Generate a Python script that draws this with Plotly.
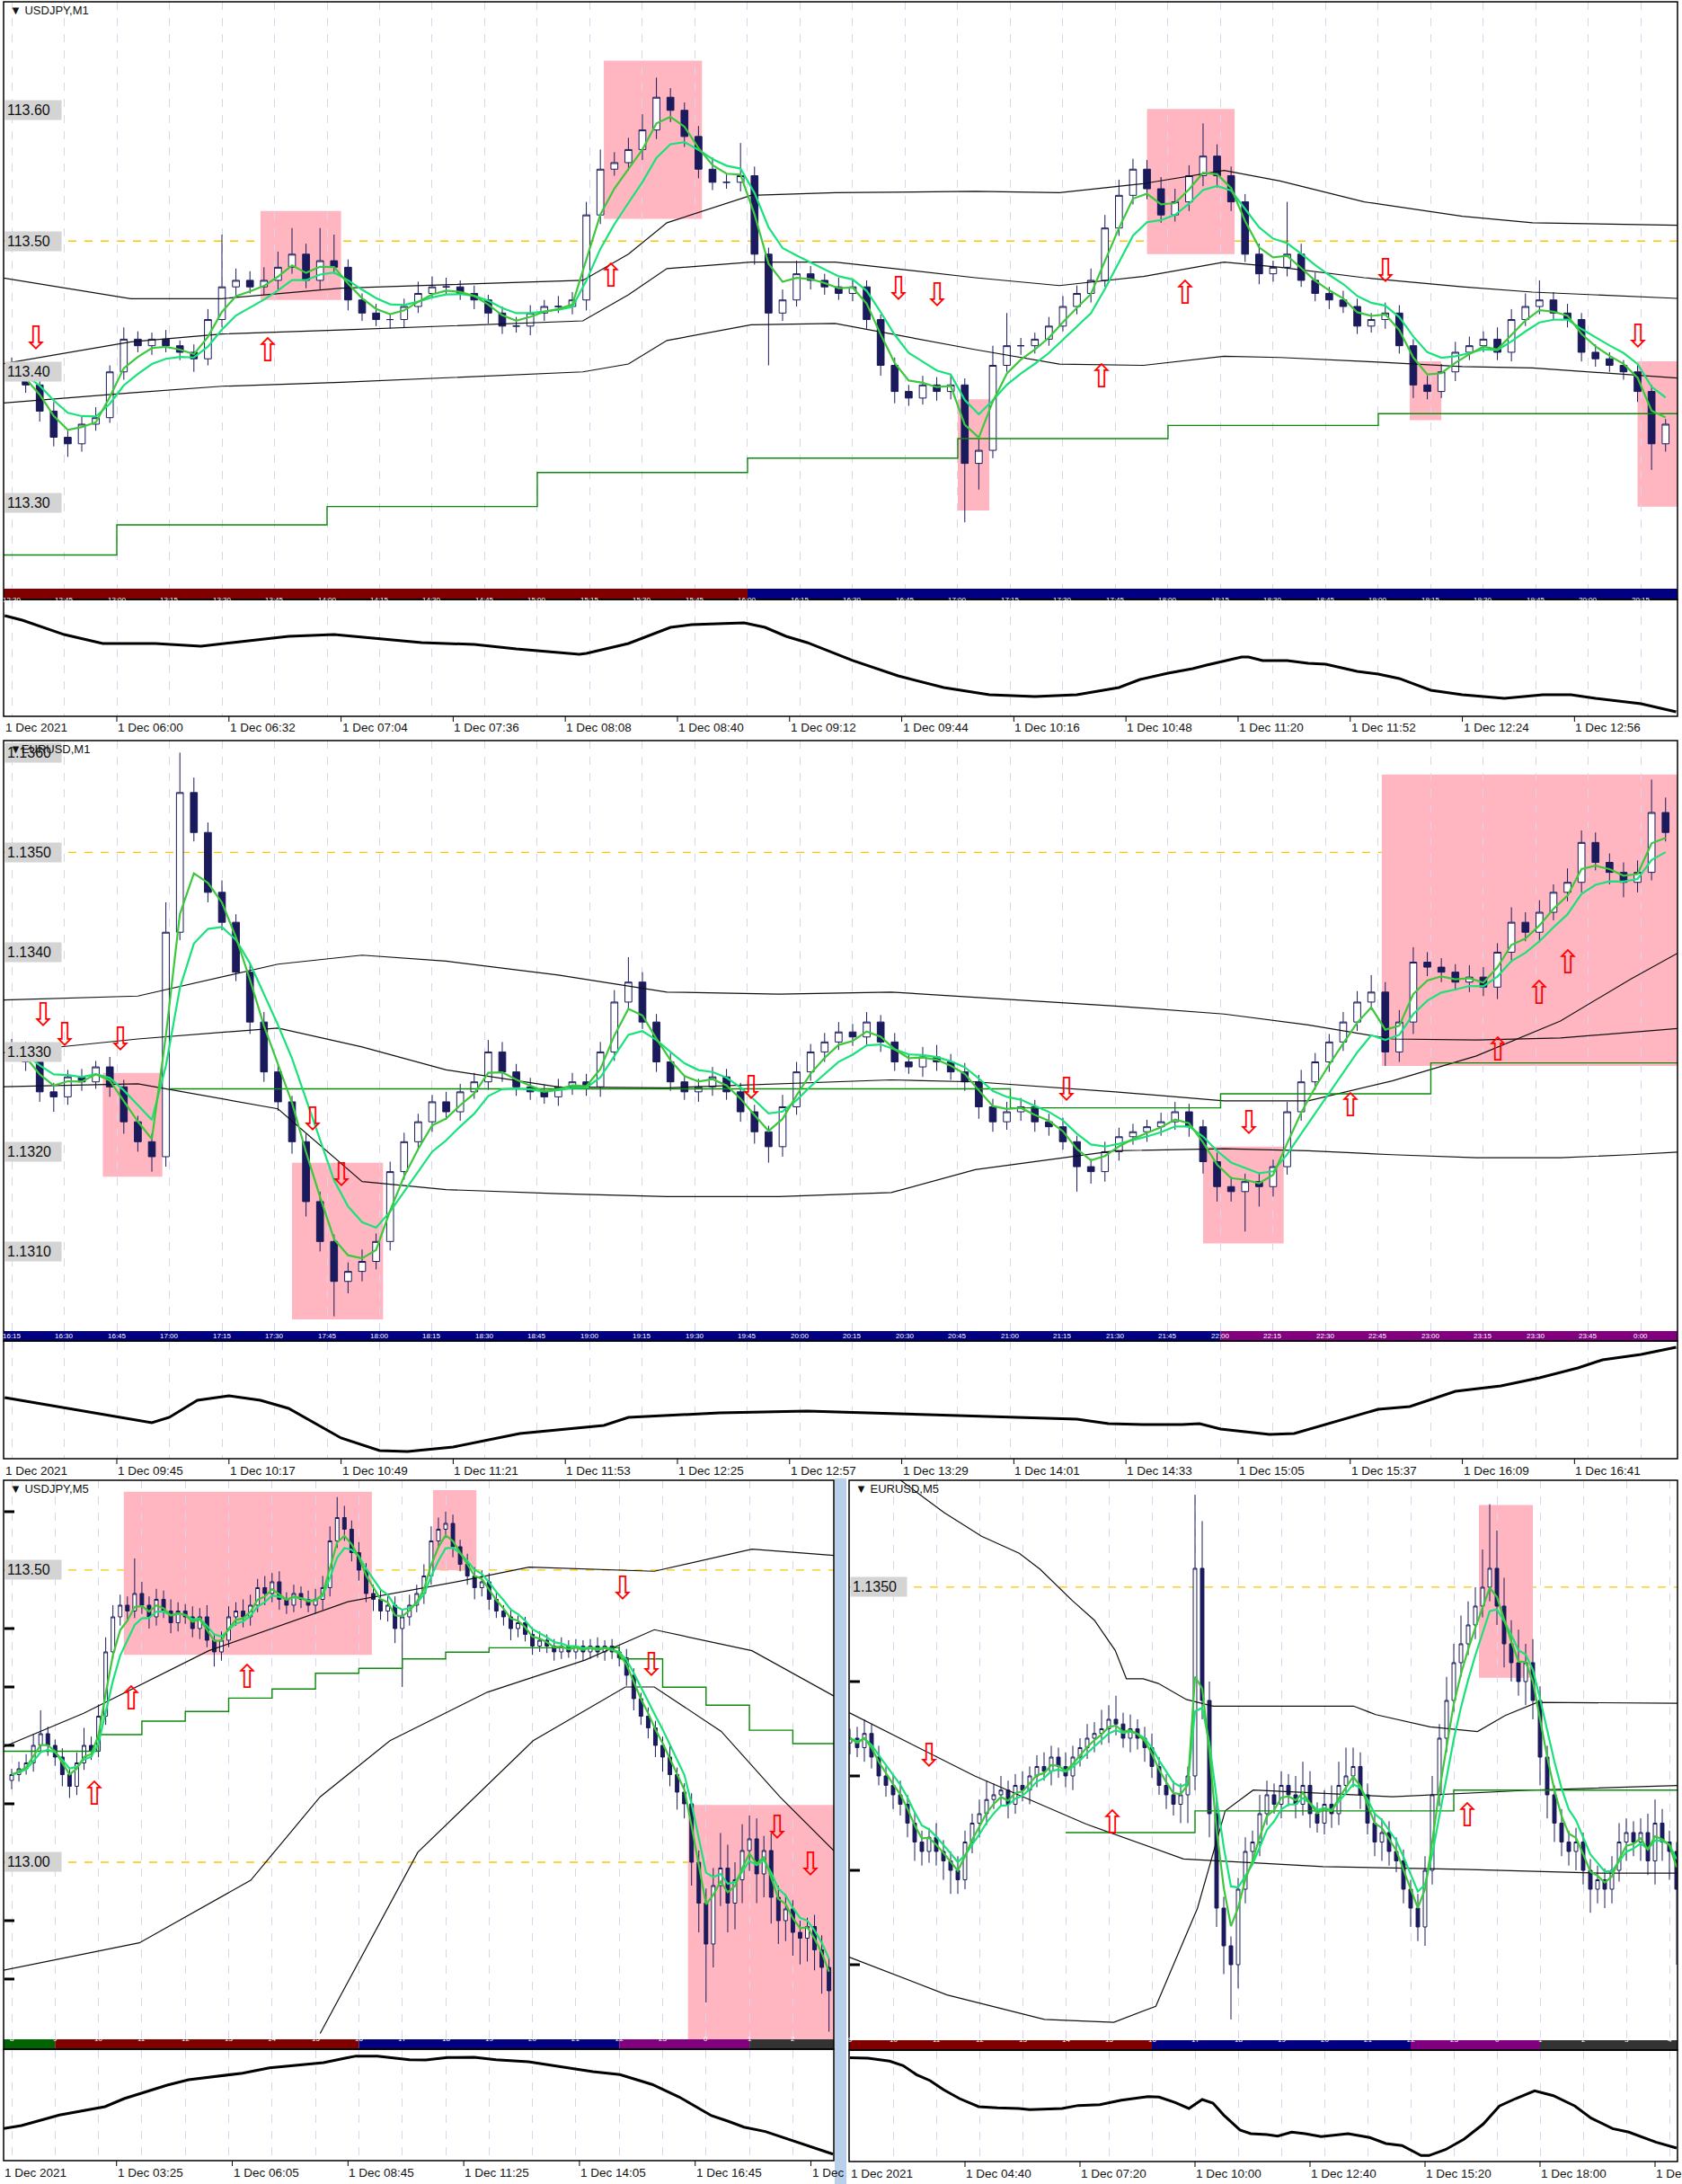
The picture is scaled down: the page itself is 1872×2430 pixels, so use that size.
import pandas as pd
import plotly.graph_objects as go

W, H = 1872, 2430

# ======================= DATA =======================
# ---- Panel 1 : USDJPY,M1  (x = minutes after 12:30 on the time bar, one candle per 4 minutes)
p1_time = list(range(0, 476, 4))
p1_open0 = 113.405
p1_close = [113.400,113.390,113.370,113.350,113.345,113.360,113.365,113.400,113.425,113.420,
            113.425,113.420,113.415,113.410,113.440,113.465,113.470,113.465,113.470,113.480,
            113.490,113.470,113.485,113.480,113.455,113.445,113.440,113.440,113.450,113.460,
            113.465,113.465,113.460,113.455,113.445,113.435,113.435,113.445,113.450,113.450,
            113.455,113.520,113.555,113.560,113.570,113.585,113.610,113.600,113.580,113.555,
            113.545,113.545,113.550,113.490,113.445,113.455,113.475,113.470,113.465,113.460,
            113.465,113.440,113.405,113.385,113.380,113.390,113.385,113.390,113.330,113.340,
            113.405,113.420,113.420,113.425,113.435,113.450,113.460,113.470,113.510,113.535,
            113.555,113.540,113.520,113.530,113.550,113.565,113.550,113.530,113.490,113.475,
            113.480,113.490,113.470,113.460,113.455,113.450,113.435,113.440,113.445,113.420,
            113.390,113.385,113.400,113.415,113.420,113.425,113.415,113.440,113.450,113.455,
            113.445,113.440,113.415,113.410,113.405,113.400,113.385,113.345,113.360]
p1_wick_up = [6,5,4,7,5,6,8,5,9,6, 5,7,4,6,8,40,9,7,10,12, 20,8,25,20,6,5,7,4,6,9,
              8,7,5,6,4,5,7,6,5,8, 6,10,15,8,9,12,15,7,6,8, 9,6,25,7,5,8,10,6,5,7,
              6,5,4,6,5,7,6,8,5,9, 15,25,6,5,7,8,6,9,10,12, 8,7,9,10,8,25,9,7,6,8,
              5,40,8,6,5,7,6,5,8,6, 5,7,6,8,7,6,9,8,10,15, 6,7,5,6,5,4,6,5,4]
p1_wick_dn = [5,6,8,7,10,6,5,4,6,5, 7,5,6,10,5,6,7,5,6,7, 5,6,7,5,8,6,5,7,6,5,
              4,6,5,7,8,6,5,7,6,5, 6,8,7,5,6,8,7,9,8,7, 6,5,7,8,40,6,5,7,6,5,
              6,7,8,9,6,5,7,6,45,20, 6,5,7,6,5,4,6,7,5,6, 7,8,6,5,7,8,9,7,6,8,
              6,7,5,6,7,5,6,5,7,6, 10,6,5,7,6,5,6,7,5,6, 5,6,7,6,5,6,8,20,6]
p1_band_t = [-3, 34, 60, 94, 163, 176, 187, 211, 235, 275, 299, 323, 346, 362, 386, 414, 434, 477]
p1_band_hi = [113.472,113.456,113.456,113.464,113.470,113.490,113.514,113.535,113.537,113.538,
              113.537,113.544,113.554,113.546,113.530,113.519,113.514,113.512]
p1_band_mid = [113.406,113.423,113.429,113.432,113.439,113.459,113.479,113.484,113.484,113.472,
               113.466,113.473,113.484,113.480,113.472,113.465,113.461,113.456]
p1_band_lo = [113.376,113.384,113.389,113.392,113.400,113.406,113.424,113.436,113.437,113.417,
              113.406,113.405,113.412,113.411,113.408,113.404,113.403,113.395]
p1_step_t = [-3, 30, 90, 150, 210, 270, 330, 390, 477]
p1_step_v = [113.260, 113.283, 113.297, 113.323, 113.334, 113.349, 113.359, 113.368, 113.368]
p1_osc_t = [-2,3,15,26,41,54,63,79,92,106,117,132,144,162,164,176,188,194,209,215,
            221,227,240,253,266,279,292,304,316,322,330,337,341,351,353,357,364,370,375,384,
            390,396,405,414,426,437,445,452,465,475]
p1_osc_v = [86.8,82.9,70.5,62.8,62.8,60.5,63.6,69.0,70.5,66.7,63.6,62.0,58.1,53.5,54.3,62.8,76.7,79.1,80.6,76.7,
            69.0,63.6,48.1,34.9,24.8,18.6,17.1,18.6,24.8,31.8,37.2,41.1,44.2,51.2,51.2,48.1,48.1,45.7,45.0,38.8,
            36.4,32.6,22.5,18.6,15.5,18.6,18.6,15.5,10.9,3.9]
p1_zone_t0 = [71, 169, 270, 324, 399, 464]
p1_zone_t1 = [94, 197, 279, 349, 408, 476]
p1_zone_lo = [113.455, 113.517, 113.294, 113.490, 113.363, 113.297]
p1_zone_hi = [113.523, 113.638, 113.379, 113.601, 113.408, 113.408]
p1_arrow_t = [7, 253, 264, 392, 464, 73, 171, 335, 311]
p1_arrow_p = [113.426, 113.464, 113.459, 113.478, 113.428, 113.417, 113.474, 113.461, 113.397]
p1_arrow_dir = ['dn', 'dn', 'dn', 'dn', 'dn', 'up', 'up', 'up', 'up']
p1_levels = [113.60, 113.50, 113.40, 113.30]
p1_level_text = ['113.60', '113.50', '113.40', '113.30']
p1_yellow = [113.50]
p1_session_t = [-3, 210, 480]
p1_session_c = ['#800000', '#000080']
p1_bar_t = list(range(0, 466, 15))
p1_bar_labels = [f'{((750 + 15 * i) // 60) % 24}:{(750 + 15 * i) % 60:02d}' for i in range(32)]
p1_date_t = [-2, 30, 62, 94, 126, 158, 190, 222, 254, 286, 318, 350, 382, 414, 446]
p1_date_labels = ['1 Dec 2021', '1 Dec 06:00', '1 Dec 06:32', '1 Dec 07:04', '1 Dec 07:36', '1 Dec 08:08',
                  '1 Dec 08:40', '1 Dec 09:12', '1 Dec 09:44', '1 Dec 10:16', '1 Dec 10:48', '1 Dec 11:20',
                  '1 Dec 11:52', '1 Dec 12:24', '1 Dec 12:56']

# ---- Panel 2 : EURUSD,M1  (x = minutes after 16:15 on the time bar)
p2_time = list(range(0, 476, 4))
p2_open0 = 1.13305
p2_close = [1.13300,1.13290,1.13260,1.13255,1.13275,1.13270,1.13285,1.13265,1.13230,1.13210,
            1.13195,1.13420,1.13560,1.13520,1.13460,1.13430,1.13380,1.13330,1.13280,1.13250,
            1.13210,1.13150,1.13110,1.13070,1.13080,1.13090,1.13110,1.13180,1.13210,1.13230,
            1.13250,1.13240,1.13260,1.13270,1.13300,1.13280,1.13265,1.13260,1.13255,1.13265,
            1.13270,1.13265,1.13300,1.13350,1.13370,1.13330,1.13290,1.13270,1.13260,1.13265,
            1.13275,1.13260,1.13240,1.13220,1.13205,1.13245,1.13280,1.13300,1.13310,1.13320,
            1.13315,1.13330,1.13310,1.13290,1.13285,1.13295,1.13290,1.13280,1.13270,1.13245,
            1.13230,1.13240,1.13245,1.13230,1.13225,1.13210,1.13185,1.13180,1.13200,1.13215,
            1.13220,1.13225,1.13230,1.13240,1.13225,1.13190,1.13165,1.13160,1.13170,1.13165,
            1.13185,1.13240,1.13270,1.13290,1.13310,1.13330,1.13350,1.13360,1.13300,1.13330,
            1.13390,1.13385,1.13380,1.13370,1.13375,1.13365,1.13400,1.13430,1.13420,1.13440,
            1.13460,1.13470,1.13510,1.13490,1.13480,1.13470,1.13480,1.13540,1.13520]
p2_wick_up = [8,10,6,9,7,8,6,10,7,6, 8,30,40,15,10,12,8,9,10,7, 6,8,10,7,9,12,8,10,9,8,
              7,10,8,9,12,10,8,9,7,8, 9,8,10,12,25,10,8,9,7,8, 10,8,9,7,6,12,10,8,9,10,
              8,10,7,9,8,10,12,8,9,7, 8,10,9,7,8,9,6,8,10,9, 8,7,9,10,8,7,9,10,8,9,
              7,10,12,9,8,10,11,17,10,12, 15,10,9,8,12,10,9,15,10,12, 8,14,12,10,9,10,12,33,15]
p2_wick_dn = [8,9,10,15,8,9,7,10,12,10, 15,10,8,9,10,8,9,12,10,9, 12,15,10,35,12,10,8,9,8,9,
              10,8,9,7,8,10,9,8,7,9, 8,9,10,9,8,7,10,9,8,10, 9,8,10,12,16,10,8,9,10,8,
              9,8,10,9,7,10,9,8,9,12, 10,8,9,10,9,8,25,12,10,9, 8,10,9,8,10,12,15,10,40,20,
              10,8,9,8,10,9,9,8,14,10, 12,9,10,8,10,9,12,10,9,10, 8,9,10,8,12,15,10,8,9]
p2_band_t = [-3, 36, 76, 100, 124, 156, 187, 219, 251, 275, 315, 346, 370, 394, 418, 442, 462, 477]
p2_band_hi = [1.13352,1.13356,1.13388,1.13397,1.13391,1.13377,1.13360,1.13358,1.13360,1.13355,
              1.13346,1.13338,1.13327,1.13313,1.13312,1.13314,1.13320,1.13324]
p2_band_mid = [1.13299,1.13313,1.13324,1.13305,1.13282,1.13265,1.13264,1.13268,1.13272,1.13270,
               1.13260,1.13251,1.13251,1.13271,1.13296,1.13331,1.13373,1.13402]
p2_band_lo = [1.13265,1.13268,1.13243,1.13170,1.13162,1.13158,1.13155,1.13155,1.13159,1.13182,
              1.13201,1.13203,1.13201,1.13197,1.13194,1.13194,1.13197,1.13200]
p2_step_t = [45, 285, 345, 405, 477]
p2_step_v = [1.13263, 1.13244, 1.13258, 1.13289, 1.13289]
p2_osc_t = [-2,40,45,53,62,71,79,94,105,113,126,134,145,169,176,202,227,253,279,304,
            313,324,334,339,345,359,366,381,390,399,412,425,436,447,454,465,475]
p2_osc_v = [52.3,30.8,35.4,50.0,53.8,50.0,43.1,17.7,6.9,6.2,10.0,14.6,21.5,28.5,35.4,39.2,40.8,38.5,36.2,33.8,
            30.0,29.2,29.2,30.0,25.4,20.8,21.5,34.6,42.3,44.6,57.7,62.3,69.2,77.7,84.6,89.2,95.4]
p2_zone_t0 = [26, 80, 340, 391]
p2_zone_t1 = [43, 106, 363, 476]
p2_zone_lo = [1.13175, 1.13032, 1.13108, 1.13286]
p2_zone_hi = [1.13279, 1.13189, 1.13205, 1.13578]
p2_arrow_t = [9, 15, 31, 86, 94, 211, 301, 353, 382, 424, 436, 444]
p2_arrow_p = [1.13338, 1.13318, 1.13313, 1.13233, 1.13177, 1.13265, 1.13263, 1.13230,
              1.13247, 1.13303, 1.13359, 1.13390]
p2_arrow_dir = ['dn'] * 8 + ['up'] * 4
p2_levels = [1.1360, 1.1350, 1.1340, 1.1330, 1.1320, 1.1310]
p2_level_text = ['1.1360', '1.1350', '1.1340', '1.1330', '1.1320', '1.1310']
p2_yellow = [1.1350]
p2_session_t = [-3, 345, 480]
p2_session_c = ['#000080', '#800080']
p2_bar_t = list(range(0, 466, 15))
p2_bar_labels = [f'{((975 + 15 * i) // 60) % 24}:{(975 + 15 * i) % 60:02d}' for i in range(32)]
p2_date_t = [-2, 30, 62, 94, 126, 158, 190, 222, 254, 286, 318, 350, 382, 414, 446]
p2_date_labels = ['1 Dec 2021', '1 Dec 09:45', '1 Dec 10:17', '1 Dec 10:49', '1 Dec 11:21', '1 Dec 11:53',
                  '1 Dec 12:25', '1 Dec 12:57', '1 Dec 13:29', '1 Dec 14:01', '1 Dec 14:33', '1 Dec 15:05',
                  '1 Dec 15:37', '1 Dec 16:09', '1 Dec 16:41']

# ---- Panel 3 : USDJPY,M5  (x = M5 bars after 08:00 on the time bar, one candle per 2 bars)
p3_time = list(range(0, 228, 2))
p3_open0 = 113.14
p3_close = [113.15,113.16,113.17,113.20,113.22,113.20,113.18,113.15,113.13,113.17,
            113.20,113.19,113.25,113.36,113.42,113.44,113.43,113.46,113.44,113.42,
            113.45,113.43,113.41,113.43,113.42,113.40,113.42,113.38,113.36,113.38,
            113.42,113.43,113.42,113.44,113.47,113.46,113.48,113.45,113.44,113.46,
            113.45,113.44,113.45,113.47,113.55,113.59,113.57,113.53,113.50,113.46,
            113.45,113.43,113.44,113.40,113.42,113.44,113.46,113.49,113.55,113.57,
            113.58,113.54,113.51,113.49,113.47,113.48,113.45,113.43,113.42,113.40,
            113.41,113.39,113.37,113.38,113.37,113.36,113.37,113.36,113.37,113.36,
            113.37,113.36,113.37,113.36,113.35,113.32,113.28,113.25,113.23,113.20,
            113.18,113.15,113.12,113.10,113.00,112.93,112.86,112.96,112.99,112.93,
            112.97,113.02,113.04,112.98,113.02,112.94,112.90,112.92,112.88,112.87,
            112.89,112.85,112.82,112.78]
p3_wick_up = [10,12,15,20,40,12,10,15,12,18, 30,15,20,25,20,18,15,60,20,15, 18,15,20,15,12,18,15,20,12,15,
              18,15,20,18,15,20,15,18,12,15, 12,15,18,20,25,35,20,15,18,12, 15,18,20,15,12,18,15,20,25,20,
              20,15,12,18,15,20,15,12,10,15, 12,10,12,15,10,12,15,10,12,10, 12,15,10,12,10,15,12,10,15,12,
              15,20,12,15,18,20,25,30,60,40, 30,45,40,35,25,30,20,25,15,20, 15,20,25,15]
p3_wick_dn = [15,12,10,15,12,18,15,20,20,15, 12,15,10,15,12,15,18,12,15,20, 15,12,18,15,12,15,18,12,25,15,
              12,15,18,15,12,20,15,18,15,12, 15,12,15,18,15,12,20,15,18,15, 20,15,18,25,100,15,12,18,15,12,
              15,18,12,15,20,15,18,12,15,20, 15,12,15,10,12,15,12,10,12,15, 12,10,15,12,15,18,20,15,18,20,
              25,20,30,25,40,50,100,40,35,50, 45,40,35,50,40,45,40,35,40,45, 40,35,45,70]
p3_hi_t = [-3.2, 19.9, 54.5, 93, 123.8, 143.1, 177.7, 204.7, 227.8]
p3_hi_v = [113.195, 113.255, 113.362, 113.446, 113.481, 113.505, 113.498, 113.536, 113.525]
p3_mid_t = [-3.2, 35.3, 66.1, 85.3, 104.6, 131.5, 158.5, 177.7, 204.7, 227.8]
p3_mid_v = [112.814, 112.862, 112.969, 113.112, 113.208, 113.291, 113.346, 113.398, 113.362, 113.283]
p3_lo_t = [85.3, 112.3, 144.2, 169.7, 177.7, 196.2, 212.4, 227.8]
p3_lo_v = [112.707, 113.017, 113.208, 113.300, 113.300, 113.224, 113.112, 113.017]
p3_step_t = [-3, 24, 36, 48, 60, 72, 84, 96, 108, 120, 132, 168, 180, 192, 204, 216, 228]
p3_step_v = [113.190, 113.2185, 113.2415, 113.258, 113.281, 113.2965, 113.3235, 113.332, 113.348,
             113.3595, 113.367, 113.348, 113.2995, 113.2688, 113.226, 113.203, 113.203]
p3_osc_t = [-2.2,2.7,13.2,20.6,25.8,31.1,37,43,48.9,56.4,63.8,71.3,80.2,86.2,92.2,95.2,101.1,110,114.5,120.5,
            127.9,133.9,142.9,151.8,160.7,168.2,177.1,184.6,190.6,193.5,198,202.5,208.4,215.9,223.4,227.1]
p3_osc_v = [29.0,31.7,41.2,45.3,48.8,56.1,62.4,68.3,73.2,76.4,79.1,84.0,86.7,88.6,92.7,94.6,94.6,91.3,91.1,93.2,
            93.5,91.3,89.4,85.1,80.5,77.8,68.9,57.5,46.6,40.7,35.8,30.3,26.3,18.1,10.0,5.9]
p3_zone_t0 = [31, 116.5, 187]
p3_zone_t1 = [99.6, 128.5, 228]
p3_zone_lo = [113.355, 113.500, 112.679]
p3_zone_hi = [113.634, 113.637, 113.098]
p3_arrow_t = [22.9, 33, 65, 168.9, 177, 211.6, 220.8]
p3_arrow_p = [113.118, 113.280, 113.317, 113.470, 113.339, 113.060, 112.998]
p3_arrow_dir = ['up', 'up', 'up', 'dn', 'dn', 'dn', 'dn']
p3_levels = [113.50, 113.00]
p3_level_text = ['113.50', '113.00']
p3_yellow = [113.50, 113.00]
p3_marks = [113.60, 113.40, 113.30, 113.20, 113.10, 112.90, 112.80]
p3_session_t = [-3, 12, 96, 168, 204, 230]
p3_session_c = ['#006400', '#800000', '#000080', '#800080', '#333333']
p3_bar_t = list(range(0, 229, 12))
p3_bar_labels = ['8', '9', '10', '11', '12', '13', '14', '15', '16', '17', '18', '19', '20', '21',
                 '22', '23', '0', '1', '2', '3']
p3_date_t = [-2.2, 29, 61, 93, 125, 157, 189, 221]
p3_date_labels = ['1 Dec 2021', '1 Dec 03:25', '1 Dec 06:05', '1 Dec 08:45', '1 Dec 11:25',
                  '1 Dec 14:05', '1 Dec 16:45', '1 Dec']

# ---- Panel 4 : EURUSD,M5  (x = M5 bars after 09:00 on the time bar, one candle per 2 bars)
p4_time = list(range(0, 232, 2))
p4_open0 = 1.13335
p4_close = [1.13340,1.13330,1.13345,1.13320,1.13300,1.13290,1.13280,1.13270,1.13250,1.13230,
            1.13220,1.13235,1.13220,1.13210,1.13200,1.13190,1.13230,1.13250,1.13260,1.13275,
            1.13280,1.13285,1.13270,1.13290,1.13285,1.13300,1.13310,1.13305,1.13320,1.13310,
            1.13300,1.13320,1.13330,1.13340,1.13345,1.13350,1.13360,1.13355,1.13340,1.13350,
            1.13340,1.13330,1.13310,1.13290,1.13280,1.13270,1.13280,1.13300,1.13520,1.13380,
            1.13260,1.13160,1.13120,1.13100,1.13180,1.13220,1.13230,1.13260,1.13280,1.13270,
            1.13290,1.13280,1.13270,1.13290,1.13260,1.13250,1.13270,1.13260,1.13290,1.13300,
            1.13310,1.13280,1.13250,1.13230,1.13240,1.13220,1.13210,1.13180,1.13160,1.13140,
            1.13200,1.13280,1.13340,1.13380,1.13420,1.13440,1.13460,1.13480,1.13500,1.13520,
            1.13480,1.13440,1.13420,1.13400,1.13420,1.13380,1.13320,1.13280,1.13250,1.13230,
            1.13220,1.13230,1.13200,1.13180,1.13190,1.13180,1.13200,1.13230,1.13240,1.13230,
            1.13240,1.13210,1.13250,1.13230,1.13220,1.13180]
p4_wick_up = [10,12,15,10,12,10,12,15,10,12, 12,10,15,12,10,15,12,10,15,20, 12,15,10,12,15,10,12,15,12,10,
              15,12,10,15,12,20,15,25,12,15, 10,12,15,10,12,15,12,10,78,50, 20,15,12,10,12,15,12,20,15,12,
              15,12,20,25,15,12,15,20,25,30, 20,15,12,10,15,12,15,12,10,15, 15,20,15,25,20,30,25,20,40,68,
              40,30,25,35,20,25,15,12,10,15, 12,15,10,12,15,12,15,20,15,12, 15,20,25,15,12,10]
p4_wick_dn = [12,10,15,12,10,12,15,12,15,20, 15,12,15,20,25,15,10,12,15,12, 10,12,15,10,12,15,12,10,15,12,
              12,15,10,12,15,12,15,12,10,15, 12,15,12,10,15,12,20,30,15,20, 25,20,30,58,25,15,12,15,12,10,
              15,12,15,12,15,10,12,15,12,10, 12,15,12,15,20,15,12,15,20,15, 20,15,12,15,12,15,12,15,12,15,
              20,25,20,15,25,20,30,25,20,15, 15,20,15,25,15,20,15,12,20,15, 20,15,25,20,30,80]
p4_hi_t = [1.8, 14.2, 26.2, 36.6, 47.1, 52.9, 61.8, 68, 73.8, 76.9, 81.6, 85.8, 93.6, 101, 140.1,
           146.3, 161.4, 174.6, 182.3, 191.2, 231.5]
p4_hi_v = [1.13662, 1.13613, 1.13579, 1.13554, 1.13536, 1.13519, 1.13486, 1.13465, 1.13433, 1.13403,
           1.13403, 1.13398, 1.13381, 1.13374, 1.13374, 1.13365, 1.13352, 1.13347, 1.13364, 1.13378, 1.13377]
p4_mid_t = [-0.2, 34.7, 65.7, 92.8, 131.6, 170.3, 209, 231.5]
p4_mid_v = [1.13367, 1.13300, 1.13249, 1.13212, 1.13204, 1.13201, 1.13197, 1.13197]
p4_lo_t = [-0.2, 27, 54.1, 73.4, 85.1, 96.7, 104.4, 112.2, 150.9, 189.7, 231.5]
p4_lo_v = [1.13108, 1.13068, 1.13042, 1.13039, 1.13056, 1.13160, 1.13263, 1.13285, 1.13278, 1.13285, 1.13290]
p4_step_t = [60, 96, 168, 232]
p4_step_v = [1.13240, 1.13263, 1.13285, 1.13285]
p4_osc_t = [0,5,11,14.8,18.5,22.3,26,30.5,35.8,41,47,50,59,63.5,69.5,75.5,83,86,90.5,94.3,
            98,101,104,108.5,111.5,116,119,122.9,126.6,131.1,138.6,144.6,149.1,153.6,158.9,161.1,165.7,170.9,176.2,180.7,
            185.2,190.5,195.7,201.7,206.2,212.2,216.7,224.2,230]
p4_osc_v = [94.0,93.5,90.8,86.7,78.6,73.2,65.0,56.9,49.6,48.5,48.0,46.9,48.0,50.7,51.5,55.5,58.8,58.3,53.4,48.0,
            56.1,52.8,42.0,28.5,25.2,24.4,23.0,26.6,25.2,22.5,25.2,21.7,16.3,14.4,5.4,5.4,10.8,20.3,33.9,50.2,
            56.9,64.0,59.6,50.2,39.3,29.8,26.6,17.6,12.2]
p4_zone_t0 = [175]
p4_zone_t1 = [190]
p4_zone_lo = [1.13404]
p4_zone_hi = [1.13587]
p4_arrow_t = [21.9, 73.1, 171.8]
p4_arrow_p = [1.13322, 1.13251, 1.13259]
p4_arrow_dir = ['dn', 'up', 'up']
p4_levels = [1.1350]
p4_level_text = ['1.1350']
p4_yellow = [1.1350]
p4_marks = [1.1340, 1.1330, 1.1320, 1.1310]
p4_session_t = [-1, 84, 156, 192, 232]
p4_session_c = ['#800000', '#000080', '#800080', '#333333']
p4_bar_t = list(range(0, 229, 12))
p4_bar_labels = ['9', '10', '11', '12', '13', '14', '15', '16', '17', '18', '19', '20', '21', '22',
                 '23', '0', '1', '2', '3', '4']
p4_date_t = [0, 32, 64, 96, 128, 160, 192, 224]
p4_date_labels = ['1 Dec 2021', '1 Dec 04:40', '1 Dec 07:20', '1 Dec 10:00', '1 Dec 12:40',
                  '1 Dec 15:20', '1 Dec 18:00', '1 Dec']

# ======================= LAYOUT / STYLE =======================
NAVY = '#1a1a5c'
GRID = '#d6d6ec'
FONT = 'Liberation Sans, Arial, sans-serif'


def fx(px):
    return px / W


def fy(py):
    return 1 - py / H


panels = [
    dict(title='\u25bc USDJPY,M1', time=p1_time, open0=p1_open0, close=p1_close, up=p1_wick_up, dn=p1_wick_dn,
         unit=0.001, bands=[(p1_band_t, p1_band_hi), (p1_band_t, p1_band_mid), (p1_band_t, p1_band_lo)],
         step=(p1_step_t, p1_step_v), osc=(p1_osc_t, p1_osc_v),
         zones=(p1_zone_t0, p1_zone_t1, p1_zone_lo, p1_zone_hi),
         arrows=(p1_arrow_t, p1_arrow_p, p1_arrow_dir), levels=(p1_levels, p1_level_text), yellow=p1_yellow,
         marks=[], sessions=(p1_session_t, p1_session_c), bar=(p1_bar_t, p1_bar_labels),
         dates=(p1_date_t, p1_date_labels), grid=list(range(0, 480, 15)), spans=(3, 6),
         x0=4, x1=1867, top=2, bar_top=655, bar_bot=667, sub_bot=797,
         xr=[-2.31, 475.4], yr=[113.2342, 113.6830]),
    dict(title='\u25bcEURUSD,M1', time=p2_time, open0=p2_open0, close=p2_close, up=p2_wick_up, dn=p2_wick_dn,
         unit=0.00001, bands=[(p2_band_t, p2_band_hi), (p2_band_t, p2_band_mid), (p2_band_t, p2_band_lo)],
         step=(p2_step_t, p2_step_v), osc=(p2_osc_t, p2_osc_v),
         zones=(p2_zone_t0, p2_zone_t1, p2_zone_lo, p2_zone_hi),
         arrows=(p2_arrow_t, p2_arrow_p, p2_arrow_dir), levels=(p2_levels, p2_level_text), yellow=p2_yellow,
         marks=[], sessions=(p2_session_t, p2_session_c), bar=(p2_bar_t, p2_bar_labels),
         dates=(p2_date_t, p2_date_labels), grid=list(range(0, 480, 15)), spans=(3, 6),
         x0=4, x1=1867, top=824, bar_top=1481, bar_bot=1492, sub_bot=1623,
         xr=[-2.31, 475.4], yr=[1.130202, 1.136121]),
    dict(title='\u25bc USDJPY,M5', time=p3_time, open0=p3_open0, close=p3_close, up=p3_wick_up, dn=p3_wick_dn,
         unit=0.001, bands=[(p3_hi_t, p3_hi_v), (p3_mid_t, p3_mid_v), (p3_lo_t, p3_lo_v)],
         step=(p3_step_t, p3_step_v), osc=(p3_osc_t, p3_osc_v),
         zones=(p3_zone_t0, p3_zone_t1, p3_zone_lo, p3_zone_hi),
         arrows=(p3_arrow_t, p3_arrow_p, p3_arrow_dir), levels=(p3_levels, p3_level_text), yellow=p3_yellow,
         marks=p3_marks, sessions=(p3_session_t, p3_session_c), bar=(p3_bar_t, p3_bar_labels),
         dates=(p3_date_t, p3_date_labels), grid=list(range(0, 240, 12)), spans=(3, 5),
         x0=4, x1=928, top=1647, bar_top=2269, bar_bot=2280, sub_bot=2404,
         xr=[-2.236, 227.33], yr=[112.6969, 113.6538]),
    dict(title='\u25bc EURUSD,M5', time=p4_time, open0=p4_open0, close=p4_close, up=p4_wick_up, dn=p4_wick_dn,
         unit=0.00001, bands=[(p4_hi_t, p4_hi_v), (p4_mid_t, p4_mid_v), (p4_lo_t, p4_lo_v)],
         step=(p4_step_t, p4_step_v), osc=(p4_osc_t, p4_osc_v),
         zones=(p4_zone_t0, p4_zone_t1, p4_zone_lo, p4_zone_hi),
         arrows=(p4_arrow_t, p4_arrow_p, p4_arrow_dir), levels=(p4_levels, p4_level_text), yellow=p4_yellow,
         marks=p4_marks, sessions=(p4_session_t, p4_session_c), bar=(p4_bar_t, p4_bar_labels),
         dates=(p4_date_t, p4_date_labels), grid=list(range(0, 240, 12)), spans=(3, 5),
         x0=945, x1=1867, top=1647, bar_top=2270, bar_bot=2281, sub_bot=2405,
         xr=[-0.25, 230.25], yr=[1.130200, 1.136133]),
]

fig = go.Figure()
shapes, annos, lay = [], [], {}


def axname(kind, n):
    return kind if n == 1 else f'{kind}{n}'


def laykey(kind, n):
    return f'{kind}axis' if n == 1 else f'{kind}axis{n}'


for i, P in enumerate(panels):
    mid, sid = 2 * i + 1, 2 * i + 2
    xm, ym, xs, ys = axname('x', mid), axname('y', mid), axname('x', sid), axname('y', sid)
    x0, x1, top, bt, bb, sb = P['x0'], P['x1'], P['top'], P['bar_top'], P['bar_bot'], P['sub_bot']
    xr, yr = P['xr'], P['yr']

    common_x = dict(domain=[fx(x0), fx(x1)], range=xr, showticklabels=False, ticks='', zeroline=False,
                    showline=False, tickmode='array', tickvals=P['grid'], showgrid=True, gridcolor=GRID,
                    griddash='dash', gridwidth=1, fixedrange=True, rangeslider=dict(visible=False))
    lay[laykey('x', mid)] = dict(common_x, anchor=ym)
    lay[laykey('x', sid)] = dict(common_x, anchor=ys)
    lay[laykey('y', mid)] = dict(domain=[fy(bt), fy(top)], range=yr, anchor=xm, showgrid=False,
                                 showticklabels=False, zeroline=False, ticks='', fixedrange=True)
    lay[laykey('y', sid)] = dict(domain=[fy(sb), fy(bb + 1)], range=[0, 100], anchor=xs, showgrid=False,
                                 showticklabels=False, zeroline=False, ticks='', fixedrange=True)

    c = P['close']
    o = [P['open0']] + c[:-1]
    hi = [max(a, b) + w * P['unit'] for a, b, w in zip(o, c, P['up'])]
    lo = [min(a, b) - w * P['unit'] for a, b, w in zip(o, c, P['dn'])]

    for bt_, bv_ in P['bands']:
        fig.add_trace(go.Scatter(x=bt_, y=bv_, mode='lines', line=dict(color='#111111', width=1.2),
                                 xaxis=xm, yaxis=ym, hoverinfo='skip', showlegend=False))
    fig.add_trace(go.Scatter(x=P['step'][0], y=P['step'][1], mode='lines', line_shape='hv',
                             line=dict(color='#0a8a0a', width=1.4), xaxis=xm, yaxis=ym,
                             hoverinfo='skip', showlegend=False))
    fig.add_trace(go.Candlestick(x=P['time'], open=o, high=hi, low=lo, close=c, xaxis=xm, yaxis=ym,
                                 increasing=dict(line=dict(color=NAVY, width=1), fillcolor='white'),
                                 decreasing=dict(line=dict(color=NAVY, width=1), fillcolor=NAVY),
                                 whiskerwidth=0, hoverinfo='skip', showlegend=False))
    s = pd.Series(c)
    fast = s.ewm(span=P['spans'][0], adjust=False).mean()
    slow = s.ewm(span=P['spans'][1], adjust=False).mean()
    fig.add_trace(go.Scatter(x=P['time'], y=slow, mode='lines', line=dict(color='#19e27a', width=2.2),
                             xaxis=xm, yaxis=ym, hoverinfo='skip', showlegend=False))
    fig.add_trace(go.Scatter(x=P['time'], y=fast, mode='lines', line=dict(color='#3cc83c', width=2.2),
                             xaxis=xm, yaxis=ym, hoverinfo='skip', showlegend=False))
    fig.add_trace(go.Scatter(x=P['osc'][0], y=P['osc'][1], mode='lines', line=dict(color='black', width=3),
                             xaxis=xs, yaxis=ys, hoverinfo='skip', showlegend=False))

    for t0, t1, l, h in zip(*P['zones']):
        shapes.append(dict(type='rect', xref=xm, yref=ym, x0=max(t0, xr[0]), x1=min(t1, xr[1]),
                           y0=max(l, yr[0]), y1=min(h, yr[1]), fillcolor='#ffb6c1',
                           line=dict(width=0), layer='below'))
    for lv in P['yellow']:
        shapes.append(dict(type='line', xref='paper', yref=ym, x0=fx(x0), x1=fx(x1), y0=lv, y1=lv,
                           line=dict(color='#ffc400', width=1.3, dash='dash'), layer='below'))
    for lv, tx in zip(*P['levels']):
        annos.append(dict(xref='paper', x=fx(x0 + 1), xanchor='left', yref=ym, y=lv, yanchor='middle',
                          text=tx, showarrow=False, bgcolor='#d4d4d4', borderpad=2, width=58, align='left',
                          font=dict(family=FONT, size=16, color='#111111')))
    for lv in P['marks']:
        shapes.append(dict(type='line', xref='paper', yref=ym, x0=fx(x0 + 1), x1=fx(x0 + 12), y0=lv, y1=lv,
                           line=dict(color='black', width=3)))
    for t, p, d in zip(*P['arrows']):
        annos.append(dict(xref=xm, yref=ym, x=t, y=p, text='\u21e7' if d == 'up' else '\u21e9',
                          showarrow=False, font=dict(family='DejaVu Sans', size=36, color='#ff0000')))
    st, sc = P['sessions']
    for k, col in enumerate(sc):
        shapes.append(dict(type='rect', xref=xm, yref='paper', x0=max(st[k], xr[0]), x1=min(st[k + 1], xr[1]),
                           y0=fy(bb), y1=fy(bt), fillcolor=col, line=dict(width=0)))
    for t, lab in zip(*P['bar']):
        annos.append(dict(xref=xm, yref='paper', x=t, y=fy((bt + bb) / 2), text=lab, showarrow=False,
                          font=dict(family=FONT, size=8, color='white')))
    for t, lab in zip(*P['dates']):
        annos.append(dict(xref=xs, yref='paper', x=t, y=fy(sb + 13), xanchor='left', yanchor='middle', text=lab,
                          showarrow=False, borderpad=0, font=dict(family=FONT, size=13.5, color='#111111')))
        if lab != '1 Dec 2021':
            shapes.append(dict(type='line', xref=xs, yref='paper', x0=t, x1=t, y0=fy(sb), y1=fy(sb + 6),
                               line=dict(color='black', width=1)))
    shapes.append(dict(type='rect', xref='paper', yref='paper', x0=fx(x0), x1=fx(x1), y0=fy(bb), y1=fy(top),
                       line=dict(color='black', width=1.5), fillcolor='rgba(0,0,0,0)'))
    shapes.append(dict(type='rect', xref='paper', yref='paper', x0=fx(x0), x1=fx(x1), y0=fy(sb), y1=fy(bb),
                       line=dict(color='black', width=1.5), fillcolor='rgba(0,0,0,0)'))
    annos.append(dict(xref='paper', yref='paper', x=fx(x0 + 5), y=fy(top + 9), xanchor='left',
                      yanchor='middle', text=P['title'], showarrow=False,
                      font=dict(family=FONT, size=13, color='#111111')))

shapes.append(dict(type='rect', xref='paper', yref='paper', x0=fx(929), x1=fx(942), y0=0, y1=fy(1645),
                   fillcolor='#b8d0ea', line=dict(width=0)))

fig.update_layout(width=W, height=H, margin=dict(l=0, r=0, t=0, b=0), paper_bgcolor='white',
                  plot_bgcolor='white', showlegend=False, shapes=shapes, annotations=annos, **lay)
fig.write_html('out.html', config={'displayModeBar': False},
               post_script="document.body.style.margin='0px';")
